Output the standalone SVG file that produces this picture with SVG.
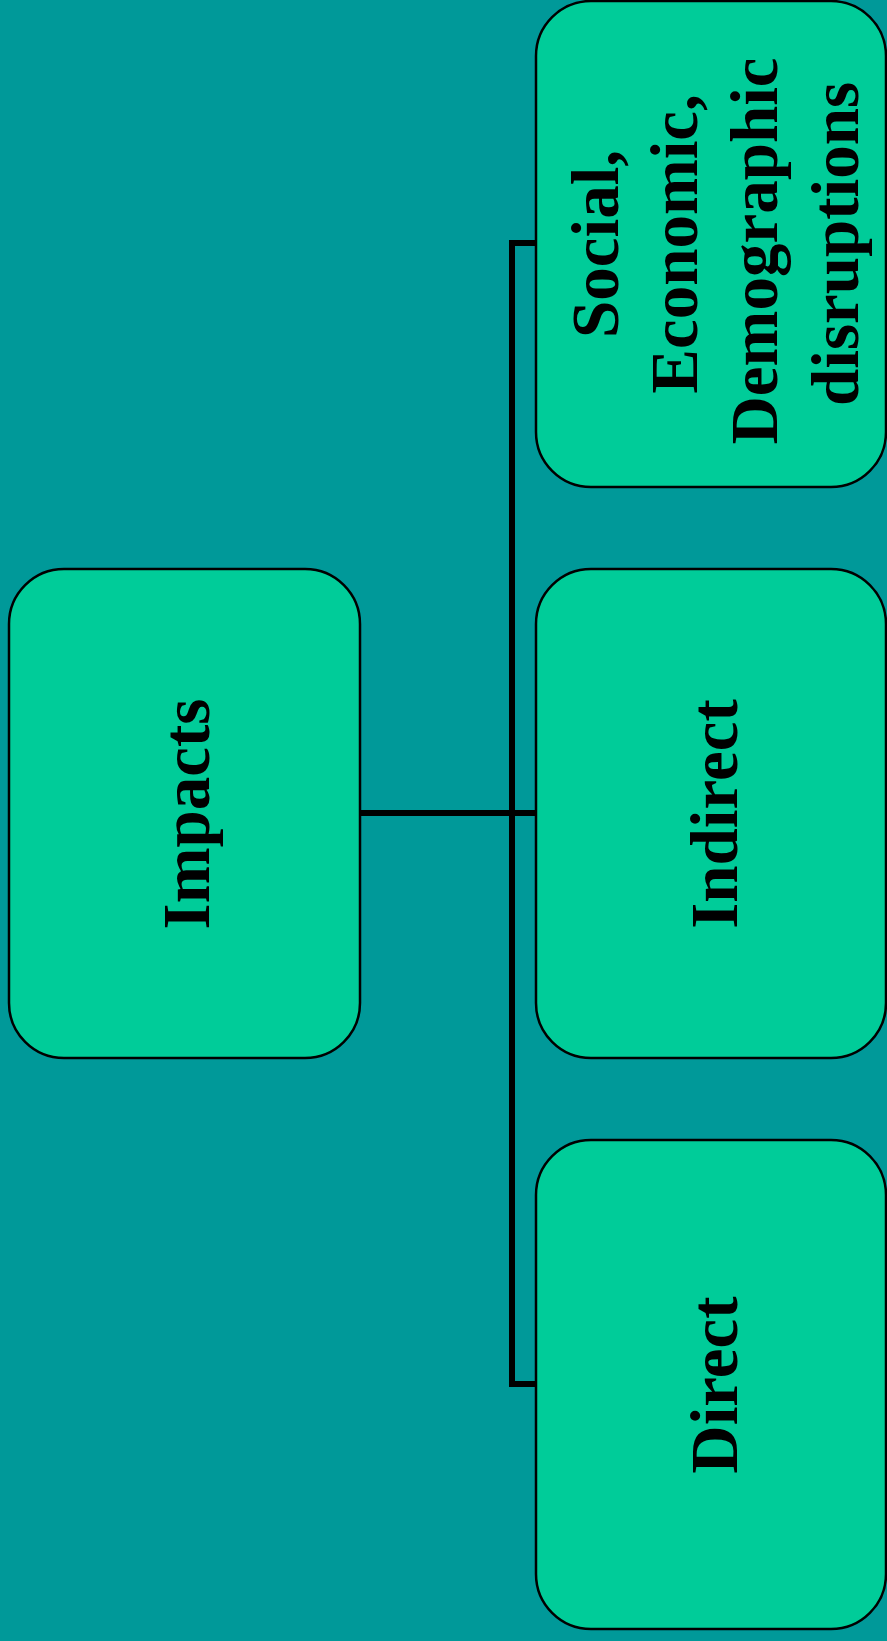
<svg xmlns="http://www.w3.org/2000/svg" width="887" height="1641" viewBox="0 0 887 1641">
  <style>
    .box { fill: #00CC99; stroke: #000; stroke-width: 2.5; }
    .lbl { font-family: "Liberation Serif", "Times New Roman", serif; font-weight: bold; font-size: 67px; fill: #000; text-anchor: middle; }
    .wire { fill: none; stroke: #000; stroke-width: 6; }
  </style>
  <rect width="887" height="1641" fill="#009999"/>

  <g id="connectors">
    <path class="wire" d="M535,243 H512 V1384 H535"/>
    <path class="wire" d="M360,813 H535"/>
  </g>

  <g id="impacts">
    <rect class="box" x="9" y="569" width="351" height="489" rx="55" ry="55"/>
    <text class="lbl" transform="translate(209,814) rotate(-90)">Impacts</text>
  </g>

  <g id="social">
    <rect class="box" x="536" y="1" width="350" height="486" rx="55" ry="55"/>
    <text class="lbl" transform="translate(618,244) rotate(-90)">Social,</text>
    <text class="lbl" transform="translate(697,244) rotate(-90)">Economic,</text>
    <text class="lbl" transform="translate(777,251) rotate(-90)">Demographic</text>
    <text class="lbl" transform="translate(858,244) rotate(-90)">disruptions</text>
  </g>

  <g id="indirect">
    <rect class="box" x="536" y="569" width="350" height="489" rx="55" ry="55"/>
    <text class="lbl" transform="translate(737,814) rotate(-90)">Indirect</text>
  </g>

  <g id="direct">
    <rect class="box" x="536" y="1140" width="350" height="489" rx="55" ry="55"/>
    <text class="lbl" transform="translate(737,1385) rotate(-90)">Direct</text>
  </g>
</svg>
